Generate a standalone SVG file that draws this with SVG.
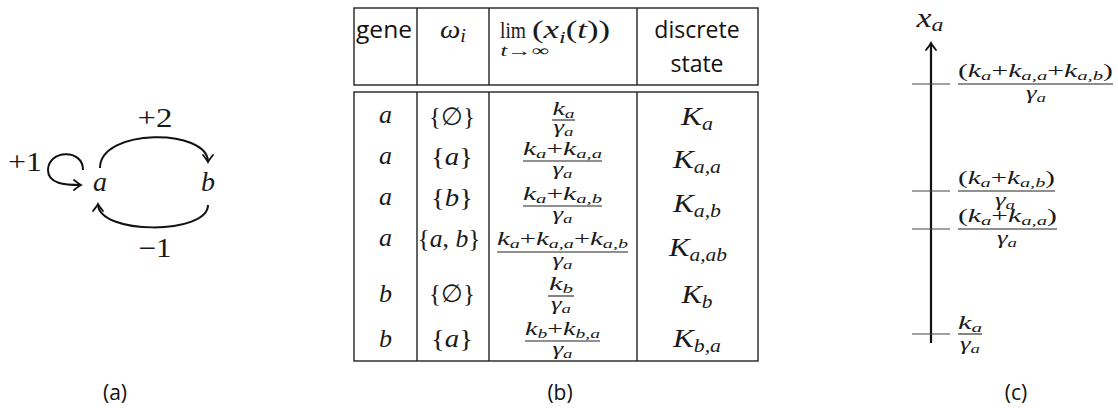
<svg xmlns="http://www.w3.org/2000/svg" width="1118" height="408" viewBox="0 0 1118 408">
<style>
.mi{font-family:"Liberation Serif","DejaVu Serif",serif;font-style:italic;fill:#1a1a1a}
.up{font-style:normal}
.sb{font-size:70%}
.sans{font-family:"Open Sans","Noto Sans",sans-serif;fill:#111}
.frac{font-size:18px}
.big{font-size:25px}
.kk{font-size:26px}
.edge{fill:none;stroke:#111;stroke-width:2}
.grid{stroke:#222;stroke-width:1.4;fill:none}
.bar{stroke:#222;stroke-width:1.1}
.tick{stroke:#444;stroke-width:1.2}
</style>
<defs>
<marker id="arr" markerUnits="userSpaceOnUse" markerWidth="16" markerHeight="16" refX="0" refY="0" viewBox="-10 -8 12 16" orient="auto" overflow="visible">
<path d="M-7,-5 Q-2,-1 0,0 Q-2,1 -7,5" fill="none" stroke="#111" stroke-width="1.8" stroke-linecap="round"/>
</marker>
</defs>

<!-- Panel (a) -->
<g id="node-a"><text class="mi" x="100" y="191" font-size="28" text-anchor="middle">a</text></g>
<g id="node-b"><text class="mi" x="208" y="191" font-size="28" text-anchor="middle">b</text></g>
<g id="connectors">
<path class="edge" d="M83,170 C83,148 48,150 48,170 C48,184 65,185 81,185" marker-end="url(#arr)"/>
<path class="edge" d="M100,168 C100,128 208,128 208,162" marker-end="url(#arr)"/>
<path class="edge" d="M208,205 C208,235 98,235 98,204" marker-end="url(#arr)"/>
</g>
<g id="edge-labels" class="mi up" font-size="27">
<text class="up" x="25" y="171" text-anchor="middle" textLength="34" lengthAdjust="spacingAndGlyphs">+1</text>
<text class="up" x="155" y="127" text-anchor="middle" textLength="35" lengthAdjust="spacingAndGlyphs">+2</text>
<text class="up" x="155" y="257" text-anchor="middle" textLength="33" lengthAdjust="spacingAndGlyphs">−1</text>
</g>
<text class="sans" x="115" y="400" font-size="21" text-anchor="middle">(a)</text>

<!-- Panel (b) table -->
<g id="table">
<g class="grid">
<rect x="354" y="8" width="404" height="77"/>
<line x1="417" y1="8" x2="417" y2="85"/>
<line x1="489" y1="8" x2="489" y2="85"/>
<line x1="637" y1="8" x2="637" y2="85"/>
<rect x="354" y="92" width="404" height="269"/>
<line x1="417" y1="92" x2="417" y2="361"/>
<line x1="489" y1="92" x2="489" y2="361"/>
<line x1="637" y1="92" x2="637" y2="361"/>
</g>
<!-- header -->
<text class="sans" x="384" y="38" font-size="23" text-anchor="middle" textLength="56" lengthAdjust="spacingAndGlyphs">gene</text>
<text class="mi" x="453" y="38" font-size="26" text-anchor="middle" textLength="26" lengthAdjust="spacingAndGlyphs">ω<tspan class="sb" dy="4">i</tspan></text>
<text class="mi up" x="513" y="38" font-size="24" text-anchor="middle" textLength="26" lengthAdjust="spacingAndGlyphs">lim</text>
<text class="mi" x="525" y="56" font-size="16" text-anchor="middle" textLength="49" lengthAdjust="spacingAndGlyphs">t<tspan class="up">→∞</tspan></text>
<text class="mi" x="532" y="38" font-size="25" textLength="78" lengthAdjust="spacingAndGlyphs"><tspan class="up">(</tspan>x<tspan class="sb" dy="5">i</tspan><tspan class="up" dy="-5">(</tspan>t<tspan class="up">))</tspan></text>
<text class="sans" x="697" y="38" font-size="23" text-anchor="middle">discrete</text>
<text class="sans" x="697" y="72" font-size="23" text-anchor="middle">state</text>

<!-- column gene -->
<g class="mi" font-size="26" text-anchor="middle">
<text x="385.5" y="123">a</text>
<text x="385.5" y="164">a</text>
<text x="385.5" y="205">a</text>
<text x="385.5" y="246">a</text>
<text x="385.5" y="302">b</text>
<text x="385.5" y="347">b</text>
</g>
<!-- column omega -->
<g class="mi big" text-anchor="middle">
<text x="452" y="125" textLength="46" lengthAdjust="spacingAndGlyphs"><tspan class="up">{∅}</tspan></text>
<text x="452" y="165" textLength="42" lengthAdjust="spacingAndGlyphs"><tspan class="up">{</tspan>a<tspan class="up">}</tspan></text>
<text x="452" y="206" textLength="42" lengthAdjust="spacingAndGlyphs"><tspan class="up">{</tspan>b<tspan class="up">}</tspan></text>
<text x="449" y="247" textLength="63" lengthAdjust="spacingAndGlyphs"><tspan class="up">{</tspan>a<tspan class="up">, </tspan>b<tspan class="up">}</tspan></text>
<text x="452" y="302" textLength="46" lengthAdjust="spacingAndGlyphs"><tspan class="up">{∅}</tspan></text>
<text x="452" y="347" textLength="42" lengthAdjust="spacingAndGlyphs"><tspan class="up">{</tspan>a<tspan class="up">}</tspan></text>
</g>
<!-- column limits -->
<g class="mi frac" text-anchor="middle">
<text x="563.5" y="115" textLength="22" lengthAdjust="spacingAndGlyphs">k<tspan class="sb" dy="3">a</tspan></text>
<line class="bar" x1="552" y1="120" x2="575" y2="120"/>
<text x="563.5" y="133" textLength="20" lengthAdjust="spacingAndGlyphs">γ<tspan class="sb" dy="3">a</tspan></text>

<text x="562.5" y="155" textLength="79" lengthAdjust="spacingAndGlyphs">k<tspan class="sb" dy="3">a</tspan><tspan class="up" dy="-3">+</tspan>k<tspan class="sb" dy="3">a,a</tspan></text>
<line class="bar" x1="523" y1="161" x2="602" y2="161"/>
<text x="562.5" y="175" textLength="20" lengthAdjust="spacingAndGlyphs">γ<tspan class="sb" dy="3">a</tspan></text>

<text x="562.5" y="200" textLength="79" lengthAdjust="spacingAndGlyphs">k<tspan class="sb" dy="3">a</tspan><tspan class="up" dy="-3">+</tspan>k<tspan class="sb" dy="3">a,b</tspan></text>
<line class="bar" x1="523" y1="206" x2="602" y2="206"/>
<text x="562.5" y="220" textLength="20" lengthAdjust="spacingAndGlyphs">γ<tspan class="sb" dy="3">a</tspan></text>

<text x="562.5" y="245" textLength="131" lengthAdjust="spacingAndGlyphs">k<tspan class="sb" dy="3">a</tspan><tspan class="up" dy="-3">+</tspan>k<tspan class="sb" dy="3">a,a</tspan><tspan class="up" dy="-3">+</tspan>k<tspan class="sb" dy="3">a,b</tspan></text>
<line class="bar" x1="497" y1="252" x2="628" y2="252"/>
<text x="562.5" y="266" textLength="20" lengthAdjust="spacingAndGlyphs">γ<tspan class="sb" dy="3">a</tspan></text>

<text x="561" y="290" textLength="24" lengthAdjust="spacingAndGlyphs">k<tspan class="sb" dy="3">b</tspan></text>
<line class="bar" x1="548" y1="296" x2="574" y2="296"/>
<text x="561" y="310" textLength="20" lengthAdjust="spacingAndGlyphs">γ<tspan class="sb" dy="3">a</tspan></text>

<text x="562.5" y="335" textLength="75" lengthAdjust="spacingAndGlyphs">k<tspan class="sb" dy="3">b</tspan><tspan class="up" dy="-3">+</tspan>k<tspan class="sb" dy="3">b,a</tspan></text>
<line class="bar" x1="525" y1="341" x2="600" y2="341"/>
<text x="562.5" y="355" textLength="20" lengthAdjust="spacingAndGlyphs">γ<tspan class="sb" dy="3">a</tspan></text>
</g>
<!-- column discrete state -->
<g class="mi kk" text-anchor="middle">
<text x="697" y="125" textLength="32" lengthAdjust="spacingAndGlyphs">K<tspan class="sb" dy="5">a</tspan></text>
<text x="697" y="168" textLength="48" lengthAdjust="spacingAndGlyphs">K<tspan class="sb" dy="5">a,a</tspan></text>
<text x="697" y="212" textLength="48" lengthAdjust="spacingAndGlyphs">K<tspan class="sb" dy="5">a,b</tspan></text>
<text x="698" y="256" textLength="58" lengthAdjust="spacingAndGlyphs">K<tspan class="sb" dy="5">a,ab</tspan></text>
<text x="697" y="303" textLength="31" lengthAdjust="spacingAndGlyphs">K<tspan class="sb" dy="5">b</tspan></text>
<text x="697" y="347" textLength="48" lengthAdjust="spacingAndGlyphs">K<tspan class="sb" dy="5">b,a</tspan></text>
</g>
</g>
<text class="sans" x="560" y="400" font-size="21" text-anchor="middle">(b)</text>

<!-- Panel (c) -->
<g id="axis">
<line x1="931" y1="343" x2="931" y2="43" stroke="#111" stroke-width="2.2" marker-end="url(#arr)"/>
<line class="tick" x1="912" y1="84" x2="950" y2="84"/>
<line class="tick" x1="912" y1="191" x2="950" y2="191"/>
<line class="tick" x1="912" y1="229" x2="950" y2="229"/>
<line class="tick" x1="912" y1="334" x2="950" y2="334"/>
<text class="mi" x="930" y="27" font-size="27" text-anchor="middle" textLength="27" lengthAdjust="spacingAndGlyphs">x<tspan class="sb" dy="4">a</tspan></text>
</g>
<g id="level-1" class="mi frac" text-anchor="middle">
<text x="1035.5" y="77" textLength="155" lengthAdjust="spacingAndGlyphs"><tspan class="up">(</tspan>k<tspan class="sb" dy="3">a</tspan><tspan class="up" dy="-3">+</tspan>k<tspan class="sb" dy="3">a,a</tspan><tspan class="up" dy="-3">+</tspan>k<tspan class="sb" dy="3">a,b</tspan><tspan class="up" dy="-3">)</tspan></text>
<line class="bar" x1="958" y1="84" x2="1113" y2="84"/>
<text x="1036" y="99" textLength="20" lengthAdjust="spacingAndGlyphs">γ<tspan class="sb" dy="3">a</tspan></text>
</g>
<g id="level-2" class="mi frac" text-anchor="middle">
<text x="1006.5" y="184" textLength="97" lengthAdjust="spacingAndGlyphs"><tspan class="up">(</tspan>k<tspan class="sb" dy="3">a</tspan><tspan class="up" dy="-3">+</tspan>k<tspan class="sb" dy="3">a,b</tspan><tspan class="up" dy="-3">)</tspan></text>
<line class="bar" x1="958" y1="191" x2="1055" y2="191"/>
<text x="1005" y="206" textLength="20" lengthAdjust="spacingAndGlyphs">γ<tspan class="sb" dy="3">a</tspan></text>
</g>
<g id="level-3" class="mi frac" text-anchor="middle">
<text x="1007.5" y="222" textLength="99" lengthAdjust="spacingAndGlyphs"><tspan class="up">(</tspan>k<tspan class="sb" dy="3">a</tspan><tspan class="up" dy="-3">+</tspan>k<tspan class="sb" dy="3">a,a</tspan><tspan class="up" dy="-3">)</tspan></text>
<line class="bar" x1="958" y1="229" x2="1057" y2="229"/>
<text x="1007" y="244" textLength="20" lengthAdjust="spacingAndGlyphs">γ<tspan class="sb" dy="3">a</tspan></text>
</g>
<g id="level-4" class="mi frac" text-anchor="middle">
<text x="970" y="329" textLength="24" lengthAdjust="spacingAndGlyphs">k<tspan class="sb" dy="3">a</tspan></text>
<line class="bar" x1="958" y1="334" x2="982" y2="334"/>
<text x="970" y="350" textLength="20" lengthAdjust="spacingAndGlyphs">γ<tspan class="sb" dy="3">a</tspan></text>
</g>
<text class="sans" x="1016" y="400" font-size="21" text-anchor="middle">(c)</text>
</svg>
